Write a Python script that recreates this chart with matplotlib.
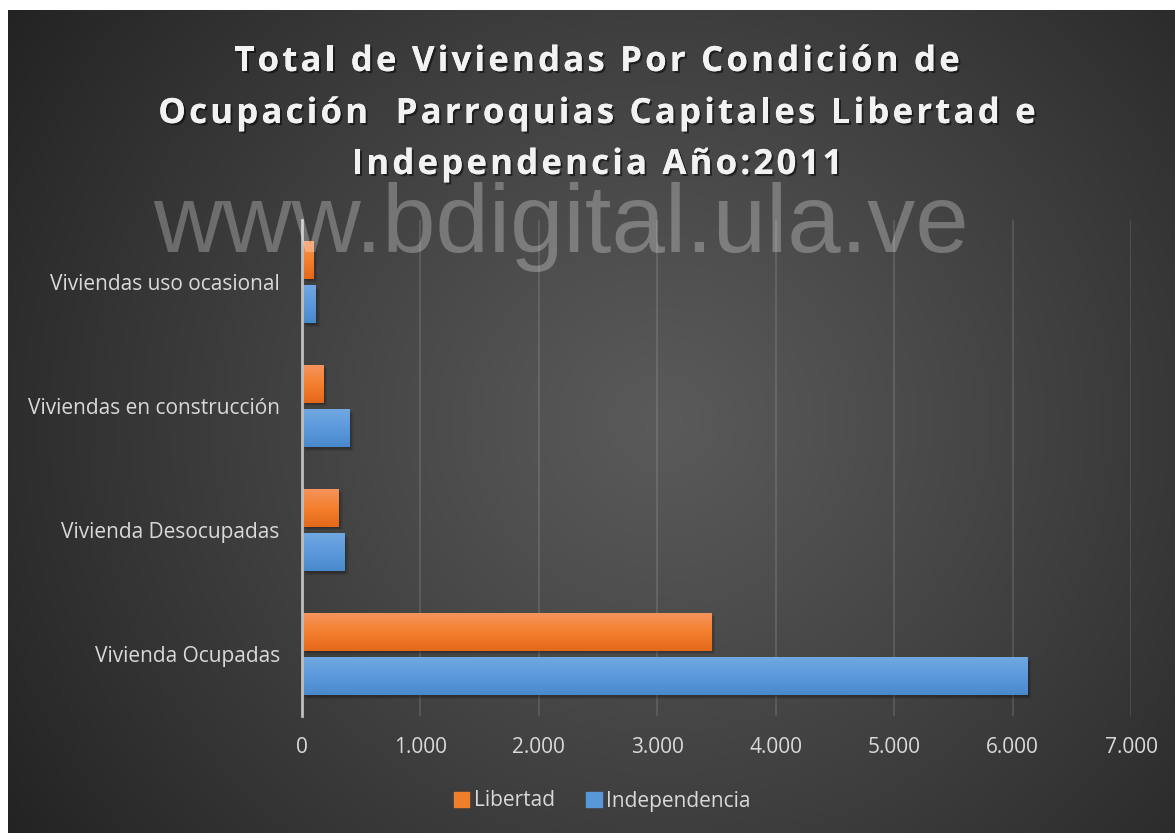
import numpy as np
import matplotlib
matplotlib.use("Agg")
import matplotlib.pyplot as plt
from matplotlib import patheffects as pe
from matplotlib import font_manager
from matplotlib.ft2font import FT2Font
from matplotlib.patches import Rectangle
from matplotlib.transforms import offset_copy

# Data
categories = ["Vivienda Ocupadas", "Vivienda Desocupadas",
              "Viviendas en construcción", "Viviendas uso ocasional"]
libertad = [3454, 312, 183, 93]
independencia = [6123, 363, 405, 118]
series_names = ["Libertad", "Independencia"]
xticks = [0, 1000, 2000, 3000, 4000, 5000, 6000, 7000]
xtick_labels = ["0", "1.000", "2.000", "3.000", "4.000", "5.000", "6.000", "7.000"]
title_lines = ["Total de Viviendas Por Condición de",
               "Ocupación  Parroquias Capitales Libertad e",
               "Independencia Año:2011"]
watermark = "www.bdigital.ula.ve"

W, H = 1175, 833
DPI = 100
fig = plt.figure(figsize=(W / DPI, H / DPI), dpi=DPI, facecolor="white")

# Dark radial-gradient chart area
bg = fig.add_axes([8 / W, 0, 1 - 8 / W, 1 - 10 / H])
bg.set_axis_off()
ny, nx = 400, 560
yy, xx = np.mgrid[0:ny, 0:nx]
cx, cy = 0.56 * nx, 0.50 * ny
r = np.hypot((xx - cx) / nx * 1.15, (yy - cy) / ny * 0.85)
r = np.clip(r / r.max(), 0, 1)
c_in = np.array([0x5a, 0x5a, 0x5a]) / 255
c_out = np.array([0x23, 0x23, 0x23]) / 255
t = r[..., None] ** 1.1
img = c_in * (1 - t) + c_out * t
bg.imshow(img, extent=[0, 1, 0, 1], aspect="auto", origin="upper")
bg.set_xlim(0, 1)
bg.set_ylim(0, 1)

# Title: bold, letter-spaced, with drop shadow
title_prop = font_manager.FontProperties(family="Open Sans", weight="bold", size=25)
title_font = FT2Font(font_manager.findfont(title_prop))
title_font.set_size(title_prop.get_size_in_points(), DPI)
tracking = 3.2  # extra pixels between letters


def advances(s):
    return [title_font.load_char(ord(c)).linearHoriAdvance / 65536.0 for c in s]


shadow = [pe.withSimplePatchShadow(offset=(1.5, -1.5), shadow_rgbFace="black", alpha=0.5),
          pe.Normal()]
title_baselines = [71, 123, 174]
for line, yb in zip(title_lines, title_baselines):
    adv = advances(line)
    total = sum(adv) + tracking * (len(line) - 1)
    x = 597 - total / 2
    for c, a in zip(line, adv):
        if c != " ":
            fig.text(x / W, 1 - yb / H, c, ha="left", va="baseline",
                     fontproperties=title_prop, color="#f2f2f2", path_effects=shadow)
        x += a + tracking

# Plot axes
left, right, top, bottom = 302, 1131, 220, 716
ax = fig.add_axes([left / W, 1 - bottom / H, (right - left) / W, (bottom - top) / H])
ax.patch.set_alpha(0)

y = np.arange(len(categories))
h = 0.306
off = 0.18
bars_l = ax.barh(y + off, libertad, height=h, color="#f07f2c", zorder=3)
bars_i = ax.barh(y - off, independencia, height=h, color="#5698d8", zorder=3)

grad_orange = [(0.96, 0.58, 0.36), (0.96, 0.50, 0.18), (0.89, 0.41, 0.10)]
grad_blue = [(0.44, 0.66, 0.88), (0.36, 0.60, 0.86), (0.28, 0.54, 0.80)]


def gradient(cols, n=64):
    cols = np.array(cols)
    s = np.linspace(0, 1, n)
    out = np.empty((n, 1, 3))
    for k in range(3):
        out[:, 0, k] = np.interp(s, [0, 0.5, 1], cols[:, k])
    return out


for bars, cols in ((bars_l, grad_orange), (bars_i, grad_blue)):
    g = gradient(cols)
    for p in bars:
        x0, y0 = p.get_x(), p.get_y()
        w, hh = p.get_width(), p.get_height()
        # soft drop shadow
        for k in range(3):
            tr = offset_copy(ax.transData, fig=fig, x=1.0 + k * 0.8, y=-1.0 - k * 0.8, units="points")
            ax.add_patch(Rectangle((x0, y0), w, hh, transform=tr, color="black",
                                   alpha=0.10, lw=0, zorder=2))
        im = ax.imshow(g, extent=[x0, x0 + w, y0, y0 + hh], aspect="auto",
                       origin="upper", zorder=4)
        im.set_clip_path(p)

ax.set_xlim(0, 7000)
ax.set_ylim(-0.5, len(categories) - 0.5)
ax.set_xticks(xticks)
ax.set_xticklabels(xtick_labels)
ax.set_yticks(y)
ax.set_yticklabels(categories)
ax.grid(axis="x", color="white", alpha=0.12, lw=1.4, zorder=0)
ax.set_axisbelow(True)
for s in ("top", "right", "bottom"):
    ax.spines[s].set_visible(False)
ax.spines["left"].set_color("#bfbfbf")
ax.spines["left"].set_linewidth(2)
ax.spines["left"].set_zorder(5)
ax.tick_params(axis="both", length=0, colors="#d9d9d9", labelsize=15)
ax.tick_params(axis="y", pad=16)
ax.tick_params(axis="x", pad=15)
for lab in ax.get_xticklabels() + ax.get_yticklabels():
    lab.set_family("Open Sans")

# Watermark
fig.text(561 / W, 1 - 252 / H, watermark, ha="center", va="baseline",
         fontsize=69, family="Liberation Sans", color="white", alpha=0.27, zorder=10)

# Legend
handles = [Rectangle((0, 0), 1, 1, color="#f07f2c"), Rectangle((0, 0), 1, 1, color="#5698d8")]
leg = fig.legend(handles, series_names, loc="center", bbox_to_anchor=(602 / W, 1 - 801 / H),
                 ncol=2, frameon=False, handlelength=0.75, handleheight=0.75,
                 handletextpad=0.2, columnspacing=1.5,
                 prop={"family": "Open Sans", "size": 15})
for txt in leg.get_texts():
    txt.set_color("#d9d9d9")

fig.savefig("out.png", dpi=DPI, facecolor="white")
